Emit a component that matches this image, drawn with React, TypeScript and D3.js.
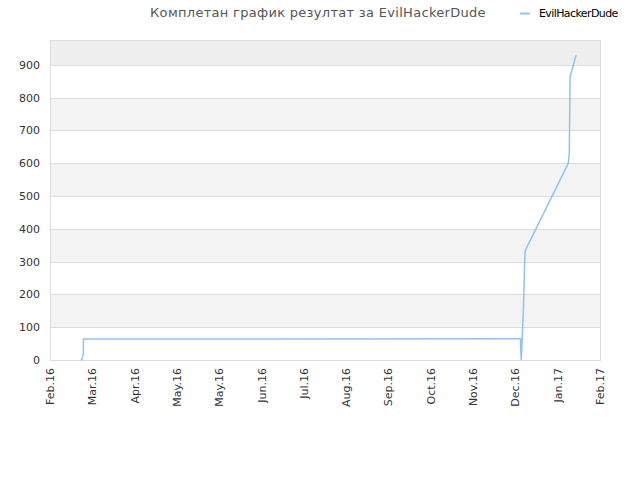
import React, { useRef, useEffect } from 'react';
import * as d3 from 'd3';

// x axis: evenly spaced tick labels over the date range
const X_START = new Date(2016, 1, 1);
const X_END = new Date(2017, 1, 1);
const X_TICK_LABELS = [
  'Feb.16', 'Mar.16', 'Apr.16', 'May.16', 'May.16', 'Jun.16', 'Jul.16',
  'Aug.16', 'Sep.16', 'Oct.16', 'Nov.16', 'Dec.16', 'Jan.17', 'Feb.17',
];
const Y_MAX = 976;
const Y_TICKS = [0, 100, 200, 300, 400, 500, 600, 700, 800, 900];

// cumulative result for the player
const POINT_TIMES = [
  '2016-02-21T12:00', '2016-02-22T06:00', '2016-02-22T14:00', '2016-02-23T04:00',
  '2016-02-23T07:00', '2016-12-10T02:00', '2016-12-10T06:00', '2016-12-10T15:00',
  '2016-12-11T07:00', '2016-12-11T23:00', '2016-12-12T15:00', '2016-12-13T03:00',
  '2017-01-10T22:00', '2017-01-11T14:00', '2017-01-12T02:00', '2017-01-16T02:00',
];
const POINT_VALUES = [0, 2, 10, 15, 64, 65, 35, 0, 76, 142, 259, 333, 600, 630, 864, 930];

const PLAYER = 'EvilHackerDude';
const TITLE = 'Комплетан график резултат за EvilHackerDude';
const LINE_COLOR = '#8fc2f3';

const App: React.FC = () => {
  const ref = useRef<SVGSVGElement | null>(null);

  useEffect(() => {
    const svg = d3.select(ref.current);
    svg.selectAll('*').remove();

    const margin = { top: 40, right: 40, bottom: 120, left: 50 };
    const width = 640, height = 480;
    const w = width - margin.left - margin.right;
    const h = height - margin.top - margin.bottom;

    const x = d3.scaleTime().domain([X_START, X_END]).range([0, w]);
    const y = d3.scaleLinear().domain([0, Y_MAX]).range([h, 0]);

    const g = svg.append('g').attr('transform', `translate(${margin.left},${margin.top})`);

    // alternating bands
    const edges = [...Y_TICKS, Y_MAX];
    g.selectAll('rect.band')
      .data(d3.range(edges.length - 1))
      .join('rect')
      .attr('x', 0)
      .attr('width', w)
      .attr('y', i => y(edges[i + 1]))
      .attr('height', i => y(edges[i]) - y(edges[i + 1]))
      .attr('fill', i => (i === edges.length - 2 ? '#eeeeee' : i % 2 === 1 ? '#f3f3f3' : '#ffffff'));

    // grid lines
    g.selectAll('line.grid')
      .data(Y_TICKS)
      .join('line')
      .attr('x1', 0)
      .attr('x2', w)
      .attr('y1', d => Math.round(y(d)) + 0.5)
      .attr('y2', d => Math.round(y(d)) + 0.5)
      .attr('stroke', '#dddddd');

    g.append('rect')
      .attr('x', 0.5)
      .attr('y', 0.5)
      .attr('width', w)
      .attr('height', h)
      .attr('fill', 'none')
      .attr('stroke', '#dddddd');

    // y labels
    g.selectAll('text.ylab')
      .data(Y_TICKS)
      .join('text')
      .attr('x', -10)
      .attr('y', d => y(d) + 4)
      .attr('text-anchor', 'end')
      .attr('font-family', 'DejaVu Sans, sans-serif')
      .attr('font-size', 11)
      .attr('fill', '#333')
      .text(d => d);

    // x labels, evenly spaced
    const step = (X_END.getTime() - X_START.getTime()) / (X_TICK_LABELS.length - 1);
    g.selectAll('text.xlab')
      .data(X_TICK_LABELS)
      .join('text')
      .attr('transform', (_, i) => `translate(${x(new Date(X_START.getTime() + i * step)) + 4},${h + 8}) rotate(-90)`)
      .attr('text-anchor', 'end')
      .attr('font-family', 'DejaVu Sans, sans-serif')
      .attr('font-size', 11)
      .attr('fill', '#333')
      .text(d => d);

    const data = POINT_TIMES.map((t, i) => ({ date: new Date(t), value: POINT_VALUES[i] }));
    const line = d3.line<{ date: Date; value: number }>()
      .x(d => x(d.date))
      .y(d => y(d.value));

    g.append('path')
      .datum(data)
      .attr('fill', 'none')
      .attr('stroke', LINE_COLOR)
      .attr('stroke-width', 1.5)
      .attr('d', line);

    // title
    svg.append('text')
      .attr('x', 318)
      .attr('y', 17)
      .attr('text-anchor', 'middle')
      .attr('font-family', 'DejaVu Sans, sans-serif')
      .attr('font-size', 13)
      .attr('letter-spacing', 0.3)
      .attr('fill', '#555')
      .text(TITLE);

    // legend
    svg.append('line')
      .attr('x1', 520)
      .attr('x2', 530)
      .attr('y1', 13.5)
      .attr('y2', 13.5)
      .attr('stroke', LINE_COLOR)
      .attr('stroke-width', 2);
    svg.append('text')
      .attr('x', 539)
      .attr('y', 17)
      .attr('font-family', 'DejaVu Sans, sans-serif')
      .attr('font-size', 11)
      .attr('letter-spacing', -0.6)
      .attr('fill', '#000')
      .text(PLAYER);
  }, []);

  return (
    <svg
      ref={ref}
      width={640}
      height={480}
      style={{ position: 'absolute', left: 0, top: 0, background: '#fff' }}
    />
  );
};

export default App;
